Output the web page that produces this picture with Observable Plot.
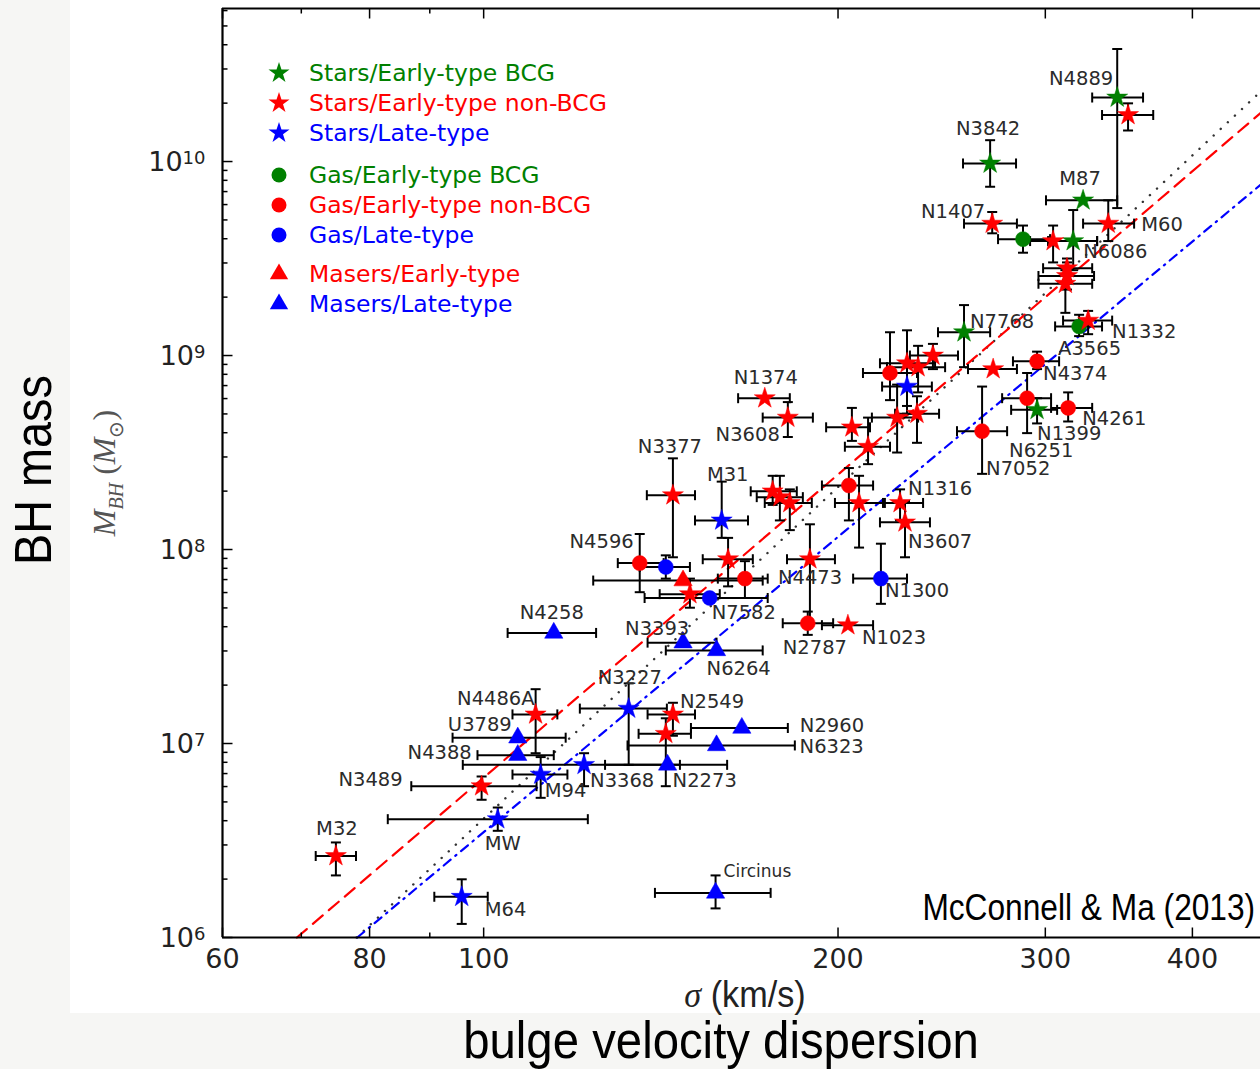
<!DOCTYPE html>
<html><head><meta charset="utf-8">
<script src="https://cdn.jsdelivr.net/npm/d3@7"></script>
<script src="https://cdn.jsdelivr.net/npm/@observablehq/plot@0.6"></script>
<style>
body{margin:0;background:#f6f6f4;width:1260px;height:1069px;position:relative;overflow:hidden;font-family:"DejaVu Sans",sans-serif;}
#panel{position:absolute;left:70px;top:0;width:1190px;height:1013px;background:#fff;}
#chart{position:absolute;left:70px;top:0;}
.lab{position:absolute;white-space:nowrap;color:#000;}
#legend .row{position:absolute;left:266px;height:26px;display:flex;align-items:center;font-size:23.5px;}
#legend svg{width:26px;height:26px;margin-right:17px;}
</style></head>
<body>
<div id="panel"></div>
<div id="chart"></div>
<div id="legend"></div>
<div class="lab" id="bh" style="left:33px;top:470px;font-family:'Liberation Sans';font-size:52px;transform:translate(-50%,-50%) rotate(-90deg) scaleX(0.9);">BH mass</div>
<div class="lab" id="mbh" style="left:107px;top:473px;font-family:'Liberation Serif';font-size:32px;color:#555;transform:translate(-50%,-50%) rotate(-90deg);"><i>M</i><sub style="font-size:20px"><i>BH</i></sub> (<i>M</i><sub style="font-size:20px">⊙</sub>)</div>
<div class="lab" style="left:745px;top:995px;font-family:'Liberation Sans';font-size:36px;color:#222;transform:translate(-50%,-50%) scaleX(0.95);"><i style="font-family:'Liberation Serif'">σ</i> (km/s)</div>
<div class="lab" style="left:721px;top:1040px;font-family:'Liberation Sans';font-size:52px;transform:translate(-50%,-50%) scaleX(0.91);">bulge velocity dispersion</div>
<div class="lab" style="right:5px;top:908px;font-family:'Liberation Sans';font-size:36px;transform:translateY(-50%) scaleX(0.88);transform-origin:right center;">McConnell &amp; Ma (2013)</div>
<script>
// ---- data: [label, sigma, sigmaLo, sigmaHi, log10 M, log10 M lo, log10 M hi]
const starsBCG = [
  ["N4889",345.3,328.8,363.2,10.33,9.76,10.58],
  ["N3842",269.3,255.4,283.3,9.99,9.87,10.11],
  ["M87",323.0,300.4,345.3,9.80,null,null],
  ["N6086",316.8,301.6,332.0,9.59,9.44,9.75],
  ["N7768",255.9,243.2,269.3,9.12,8.94,9.26],
  ["N1399",295.2,280.6,307.0,8.72,8.65,8.78]
];
const starsNonBCG = [
  ["",352.7,335.2,370.5,10.24,10.16,10.30],
  ["N1407",270.4,255.9,283.8,9.68,9.63,9.74],
  ["M60",339.3,323.0,356.9,9.68,9.59,9.80],
  ["",304.6,291.2,332.0,9.59,9.48,9.67],
  ["",313.0,298.7,328.8,9.45,9.39,9.50],
  ["",313.0,296.0,330.0,9.41,9.34,9.48],
  ["",312.0,296.0,328.8,9.37,9.22,9.44],
  ["N1332",326.2,310.6,341.9,9.18,9.11,9.23],
  ["",228.9,217.1,241.8,8.96,8.70,9.13],
  ["",233.9,220.1,246.6,8.94,8.81,9.05],
  ["",240.8,230.2,252.9,9.00,8.93,9.06],
  ["",224.5,213.7,233.9,8.68,8.50,8.85],
  ["",233.4,223.6,243.7,8.70,8.55,8.79],
  ["",205.5,195.4,212.9,8.63,8.56,8.73],
  ["",212.1,202.7,221.4,8.53,8.44,8.68],
  ["",270.9,257.9,283.8,8.93,null,null],
  ["",208.4,198.8,218.4,8.24,8.01,8.38],
  ["N1316",225.8,219.2,236.2,8.24,8.15,8.31],
  ["N3607",228.0,217.1,239.4,8.14,7.96,8.25],
  ["N1374",173.3,164.5,182.0,8.78,null,null],
  ["N3608",181.3,172.6,190.4,8.68,8.58,8.76],
  ["N3377",144.8,137.6,151.2,8.28,7.96,8.47],
  ["",176.0,168.6,184.5,8.30,8.23,8.38],
  ["",178.5,170.6,186.7,8.27,8.15,8.38],
  ["",182.0,173.3,190.0,8.24,8.10,8.31],
  ["",161.3,153.5,169.3,7.95,7.81,8.06],
  ["",149.7,141.1,158.7,7.77,7.70,7.85],
  ["N4473",189.3,181.0,198.8,7.95,7.62,8.13],
  ["N1023",203.9,193.8,214.2,7.61,null,null],
  ["N2549",144.8,137.8,151.2,7.15,7.04,7.21],
  ["",142.8,135.4,150.0,7.05,6.78,7.13],
  ["N4486A",110.7,105.8,115.5,7.15,6.95,7.28],
  ["N3489",99.6,86.8,110.9,6.78,6.71,6.83],
  ["M32",74.9,72.0,77.9,6.42,6.32,6.49]
];
const starsLate = [
  ["",228.9,218.0,240.3,8.84,8.74,8.91],
  ["M31",159.3,151.2,167.7,8.15,8.06,8.35],
  ["N3227",132.8,120.7,143.1,7.18,6.89,7.31],
  ["N3368",121.7,96.0,146.8,6.89,6.78,6.95],
  ["M94",111.8,105.8,117.8,6.84,6.72,6.93],
  ["MW",102.8,82.9,122.6,6.61,6.55,6.67],
  ["M64",95.8,90.8,100.8,6.21,6.07,6.30]
];
const gasBCG = [
  ["",287.2,273.5,302.8,9.60,9.53,9.67],
  ["A3565",320.5,305.8,335.2,9.15,9.10,9.21]
];
const gasNonBCG = [
  ["",221.4,210.0,233.4,8.91,8.77,9.12],
  ["N4374",295.2,281.6,308.2,8.97,8.93,9.02],
  ["N6251",289.5,275.7,303.4,8.78,8.60,8.91],
  ["N4261",313.7,303.4,328.8,8.73,8.66,8.81],
  ["N7052",265.1,252.4,278.4,8.61,8.39,8.84],
  ["",204.3,193.8,214.2,8.33,8.15,8.42],
  ["N4596",135.7,130.0,142.2,7.93,7.78,8.08],
  ["",166.7,158.1,174.3,7.85,7.75,7.94],
  ["N2787",188.5,179.5,198.1,7.62,7.56,7.68]
];
const gasLate = [
  ["",142.8,135.7,149.7,7.91,7.85,7.97],
  ["N7582",155.6,137.0,174.3,7.75,null,null],
  ["N1300",217.5,206.0,228.9,7.85,7.72,8.03]
];
const masersEarly = [
  ["",147.7,123.9,172.6,7.84,null,null]
];
const masersLate = [
  ["N4258",114.7,104.8,124.6,7.57,null,null],
  ["N3393",147.7,137.8,157.7,7.52,null,null],
  ["N6264",157.7,142.8,172.6,7.48,null,null],
  ["N2960",165.7,150.0,181.3,7.08,null,null],
  ["N6323",157.7,132.5,183.8,6.99,null,null],
  ["N2273",143.3,126.8,161.0,6.89,null,null],
  ["U3789",106.9,94.1,117.4,7.03,null,null],
  ["N4388",106.9,98.8,114.7,6.94,null,null],
  ["Circinus",157.4,139.8,175.3,6.23,6.15,6.32]
];
// fit lines (end points): [sigma, log10 M]
const fitEarly = [[69.4,6.0],[457,10.25]];
const fitAll   = [[78.0,6.0],[457,10.36]];
const fitLate  = [[78.1,6.0],[457,9.88]];
// axes
const xTicksMajor = [60,80,100,200,300,400];
const xTicksMinor = [70,90];
const yTicksMajor = [1e6,1e7,1e8,1e9,1e10];
const yTicksMinor = [2,3,4,5,6,7,8,9].flatMap(m=>[1e6,1e7,1e8,1e9,1e10].map(p=>m*p)).filter(v=>v<6.15e10);
const xDomain = [60,457], yDomain = [1e6,6.15e10];
const legendItems = [
  ["Stars/Early-type BCG","star","g"],["Stars/Early-type non-BCG","star","r"],["Stars/Late-type","star","b"],
  ["Gas/Early-type BCG","circle","g"],["Gas/Early-type non-BCG","circle","r"],["Gas/Late-type","circle","b"],
  ["Masers/Early-type","triangle","r"],["Masers/Late-type","triangle","b"]
];

// ---- styles / placement
const COLORS = {g:"#008000", r:"#ff0000", b:"#0000ff"};
const R = {star:6.6, circle:7.5, triangle:6.8};
const labelPlace = {
  N4889:["end",-4,-19], N3842:["middle",-2,-35], M87:["middle",-3,-22], N1407:["end",-7,-12],
  M60:["start",33,1], N6086:["start",10,11], N7768:["start",6,-10], N1332:["start",24,11],
  A3565:["start",-21,22], N4374:["start",6,12], N4261:["start",14,11], N1399:["start",0,24],
  N6251:["start",-18,53], N7052:["start",4,38], N1316:["start",8,-14], N3607:["start",3,19],
  N1374:["middle",1,-20], N3608:["end",-8,17], N3377:["middle",-3,-48], M31:["middle",6,-46],
  N4596:["end",-6,-21], N4473:["start",-32,19], N1300:["start",4,12], N7582:["start",2,15],
  N2787:["start",-25,25], N1023:["start",14,13], N4258:["middle",-2,-20], N3393:["start",-58,-14],
  N6264:["start",-10,18], N3227:["start",-31,-31], N2549:["start",7,-13], N2960:["start",58,-2],
  N6323:["start",83,1], N3368:["start",6,16], N2273:["start",5,16], N4486A:["end",-1,-16],
  U3789:["end",-6,-13], N4388:["end",-46,-2], M94:["start",4,16], N3489:["end",-79,-6],
  MW:["start",-13,25], M32:["middle",1,-27], M64:["start",23,13], Circinus:["start",8,-21]
};
const groups = [
  [starsBCG,"star","g"],[starsNonBCG,"star","r"],[starsLate,"star","b"],
  [gasBCG,"circle","g"],[gasNonBCG,"circle","r"],[gasLate,"circle","b"],
  [masersEarly,"triangle","r"],[masersLate,"triangle","b"]
];
const pts = groups.flatMap(([rows,symbol,c]) => rows.map(([label,s,sl,sh,lm,ml,mh]) => ({
  label, s, sl, sh, M: 10**lm, ml: ml==null?null:10**ml, mh: mh==null?null:10**mh, symbol, color: COLORS[c]
})));
const yErr = pts.filter(d => d.ml != null);
const toLine = a => a.map(([s,lm]) => ({s, M: 10**lm}));

const seg = (x1,y1,x2,y2) => ({draw(ctx){ctx.moveTo(x1,y1); ctx.lineTo(x2,y2);}});
const hCap = seg(-5,0,5,0), vCap = seg(0,-5,0,5);
const tRightMaj = seg(0,0,10,0), tRightMin = seg(0,0,5,0);
const tUpMaj = seg(0,0,0,-10), tUpMin = seg(0,0,0,-5);
const tDownMaj = seg(0,0,0,10), tDownMin = seg(0,0,0,5);
const yFmt = v => "10^" + Math.round(Math.log10(v));

const tickMarks = (vals, sym, xf, yf) => Plot.dot(vals, {x: xf, y: yf, symbol: sym, r: 1, fill: "none", stroke: "black", strokeWidth: 1.5});
const xMin = () => xDomain[0], yMin = () => yDomain[0], yMax = () => yDomain[1];

const labelMarks = pts.filter(d => d.label).map(d => {
  const [anchor, dx, dy] = labelPlace[d.label] || ["start",5,-12];
  return Plot.text([d], {x:"s", y:"M", text:"label", textAnchor: anchor, dx, dy,
    fontSize: d.label === "Circinus" ? 17 : 19.5, fontFamily: "DejaVu Sans", fill: "#2b2b2b"});
});

const chart = Plot.plot({
  width: 1190, height: 1013, marginLeft: 152, marginRight: 0, marginTop: 8, marginBottom: 76,
  x: {type: "log", domain: xDomain, axis: null},
  y: {type: "log", domain: yDomain, axis: null},
  color: {type: "identity"},
  style: {background: "transparent", overflow: "visible", fontFamily: "DejaVu Sans"},
  marks: [
    // fits
    Plot.line(toLine(fitAll), {x:"s", y:"M", stroke:"#333", strokeWidth:2.4, strokeDasharray:"0.1,9.6", strokeLinecap:"round"}),
    Plot.line(toLine(fitLate), {x:"s", y:"M", stroke:"#0000ff", strokeWidth:2.2, strokeDasharray:"9,6,1.5,6"}),
    Plot.line(toLine(fitEarly), {x:"s", y:"M", stroke:"#ff0000", strokeWidth:2.2, strokeDasharray:"13,8"}),
    // error bars
    Plot.link(pts, {x1:"sl", x2:"sh", y1:"M", y2:"M", stroke:"black", strokeWidth:2}),
    Plot.dot(pts, {x:"sl", y:"M", symbol:vCap, r:1, fill:"none", stroke:"black", strokeWidth:2}),
    Plot.dot(pts, {x:"sh", y:"M", symbol:vCap, r:1, fill:"none", stroke:"black", strokeWidth:2}),
    Plot.link(yErr, {x1:"s", x2:"s", y1:"ml", y2:"mh", stroke:"black", strokeWidth:2}),
    Plot.dot(yErr, {x:"s", y:"ml", symbol:hCap, r:1, fill:"none", stroke:"black", strokeWidth:2}),
    Plot.dot(yErr, {x:"s", y:"mh", symbol:hCap, r:1, fill:"none", stroke:"black", strokeWidth:2}),
    // markers
    Plot.dot(pts.filter(d=>d.symbol==="circle"), {x:"s", y:"M", symbol:"circle", r:R.circle, fill:"color", stroke:"color", strokeWidth:0.5}),
    Plot.dot(pts.filter(d=>d.symbol==="triangle"), {x:"s", y:"M", symbol:"triangle", r:R.triangle, fill:"color", stroke:"color", strokeWidth:0.5}),
    Plot.dot(pts.filter(d=>d.symbol==="star"), {x:"s", y:"M", symbol:"star", r:R.star, fill:"color", stroke:"color", strokeWidth:0.5}),
    // labels
    ...labelMarks,
    // ticks (inside)
    tickMarks(yTicksMajor, tRightMaj, xMin, d=>d),
    tickMarks(yTicksMinor, tRightMin, xMin, d=>d),
    tickMarks(xTicksMajor, tUpMaj, d=>d, yMin),
    tickMarks(xTicksMinor, tUpMin, d=>d, yMin),
    tickMarks(xTicksMajor, tDownMaj, d=>d, yMax),
    tickMarks(xTicksMinor, tDownMin, d=>d, yMax),
    // spines
    Plot.ruleX([xDomain[0]], {stroke:"black", strokeWidth:2.2}),
    Plot.ruleY([yDomain[0], yDomain[1]], {stroke:"black", strokeWidth:2.2}),
    // tick labels
    Plot.text(xTicksMajor, {x:d=>d, y:yMin, text:d=>String(d), dy:22, fontSize:27, fill:"#222"}),
    Plot.text(yTicksMajor, {x:xMin, y:d=>d, text:yFmt, dx:-17, dy:1, textAnchor:"end", fontSize:27, fill:"#222"})
  ]
});
// render the exponents of the y tick labels as superscripts
d3.select(chart).selectAll("text").each(function() {
  const m = /^10\^(\d+)$/.exec(this.textContent);
  if (!m) return;
  const t = d3.select(this);
  t.text(null);
  t.append("tspan").text("10");
  t.append("tspan").attr("dy", "-0.42em").attr("font-size", 18).text(m[1]);
});
document.getElementById("chart").appendChild(chart);

// legend
const leg = document.getElementById("legend");
const legendTop = [73,103,133,175,205,235,274,304];
const symTypes = {star:d3.symbolStar, circle:d3.symbolCircle, triangle:d3.symbolTriangle};
legendItems.forEach(([text,sym,c],i) => {
  const row = document.createElement("div");
  row.className = "row";
  row.style.top = (legendTop[i]-13) + "px";
  row.style.color = COLORS[c];
  const path = d3.symbol(symTypes[sym], Math.PI*R[sym]*R[sym])();
  row.innerHTML = `<svg viewBox="-13 -13 26 26"><path d="${path}" fill="${COLORS[c]}"/></svg><span>${text}</span>`;
  leg.appendChild(row);
});
</script>
</body></html>
